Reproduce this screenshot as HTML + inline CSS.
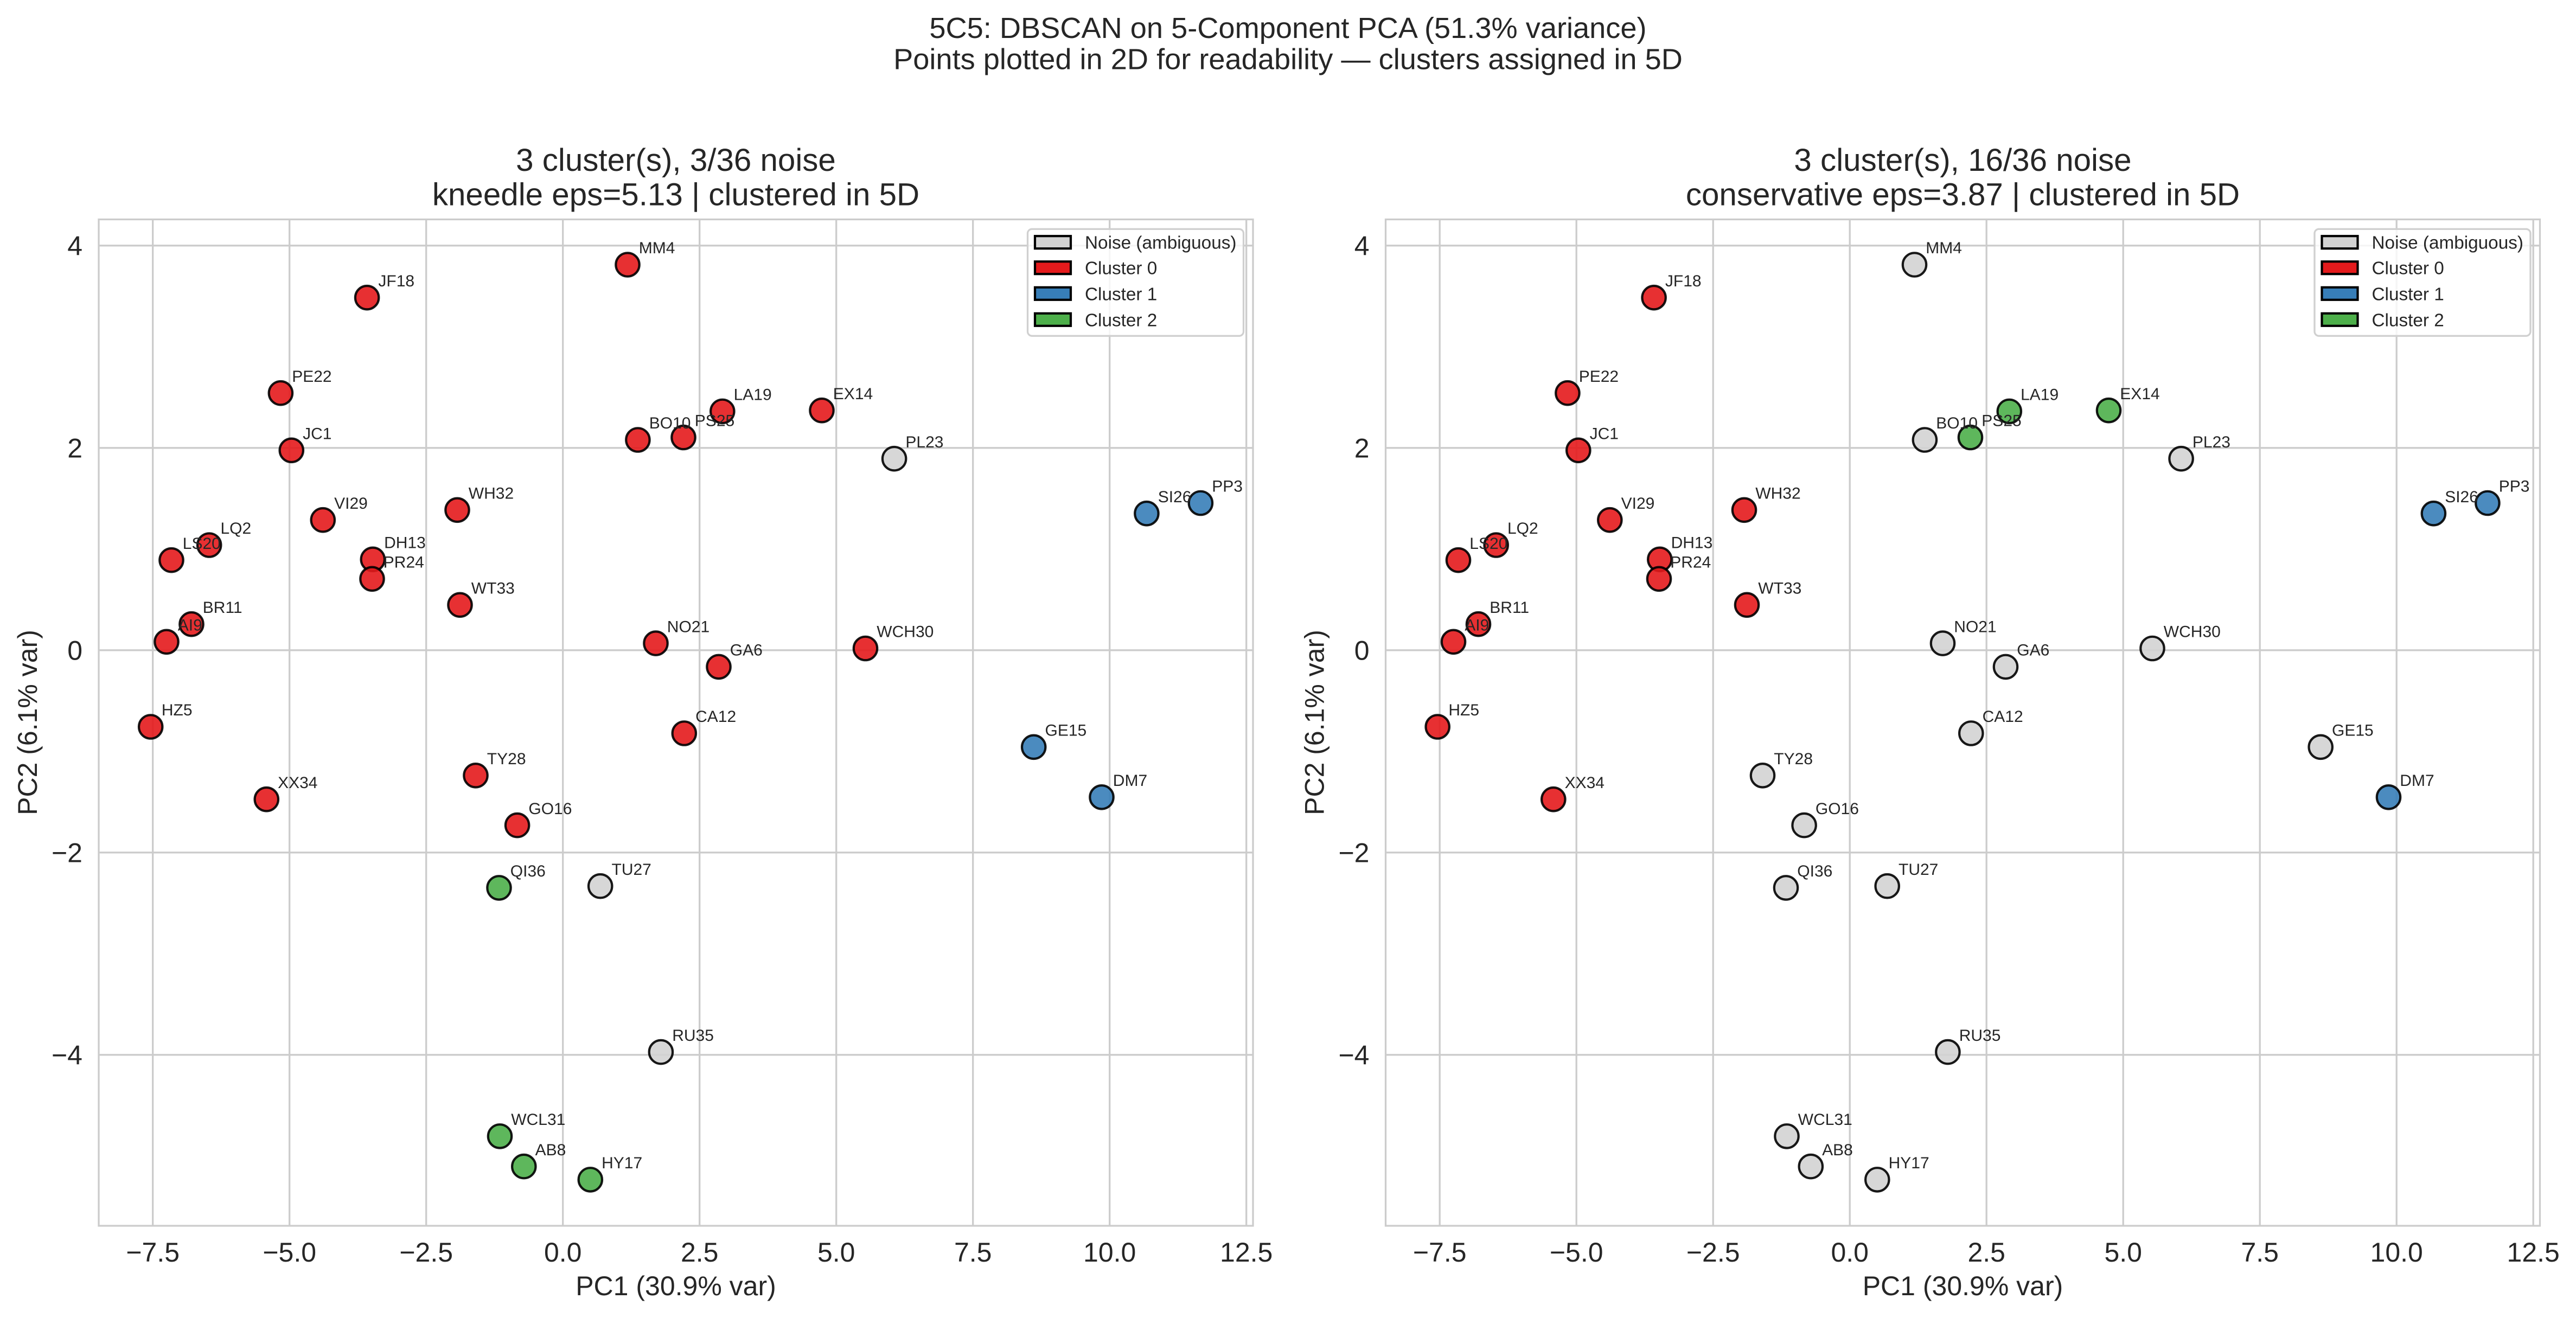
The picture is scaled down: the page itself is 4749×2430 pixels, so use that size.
<!DOCTYPE html>
<html><head><meta charset="utf-8">
<style>
html,body{margin:0;padding:0;background:#fff;width:4749px;height:2430px;overflow:hidden}
svg text{font-family:"Liberation Sans",Arial,sans-serif;fill:#262626}
.grid line{stroke:#cccccc;stroke-width:3.3}
.pt circle{stroke:rgba(0,0,0,0.9);stroke-width:4.2}
.n{fill:rgba(211,211,211,0.9)}
.r{fill:rgba(228,26,28,0.9)}
.b{fill:rgba(55,126,184,0.9)}
.g{fill:rgba(77,175,74,0.9)}
.lbl text{font-size:30px}
.tk{font-size:50px}
.ttl{font-size:58.3px}
.lg text{font-size:33.3px}
.lg rect.p{stroke:#000;stroke-width:4.2}
</style></head><body>
<svg width="4749" height="2430" viewBox="0 0 4749 2430" xmlns="http://www.w3.org/2000/svg">
<rect x="0" y="0" width="4749" height="2430" fill="#fff"/>
<text x="2374.5" y="70" text-anchor="middle" style="font-size:54.2px">5C5: DBSCAN on 5-Component PCA (51.3% variance)</text>
<text x="2374.5" y="127.7" text-anchor="middle" style="font-size:54.2px">Points plotted in 2D for readability — clusters assigned in 5D</text>

<!-- LEFT PLOT -->
<g>
<rect x="182" y="404.5" width="2128" height="1855.5" fill="#fff"/>
<g class="grid">
<line x1="281.7" y1="404.5" x2="281.7" y2="2260"/>
<line x1="533.7" y1="404.5" x2="533.7" y2="2260"/>
<line x1="785.7" y1="404.5" x2="785.7" y2="2260"/>
<line x1="1037.7" y1="404.5" x2="1037.7" y2="2260"/>
<line x1="1289.7" y1="404.5" x2="1289.7" y2="2260"/>
<line x1="1541.7" y1="404.5" x2="1541.7" y2="2260"/>
<line x1="1793.7" y1="404.5" x2="1793.7" y2="2260"/>
<line x1="2045.7" y1="404.5" x2="2045.7" y2="2260"/>
<line x1="2297.7" y1="404.5" x2="2297.7" y2="2260"/>
<line x1="182" y1="452.8" x2="2310" y2="452.8"/>
<line x1="182" y1="825.8" x2="2310" y2="825.8"/>
<line x1="182" y1="1198.8" x2="2310" y2="1198.8"/>
<line x1="182" y1="1571.8" x2="2310" y2="1571.8"/>
<line x1="182" y1="1944.8" x2="2310" y2="1944.8"/>
</g>
<g class="pt">
<circle class="n" cx="1648.6" cy="845.7" r="21.7"/>
<circle class="n" cx="1106.7" cy="1633.7" r="21.7"/>
<circle class="n" cx="1218.4" cy="1939.6" r="21.7"/>
<circle class="r" cx="537.3" cy="830.3" r="21.7"/>
<circle class="r" cx="385.7" cy="1005" r="21.7"/>
<circle class="r" cx="1157" cy="488" r="21.7"/>
<circle class="r" cx="277.7" cy="1340" r="21.7"/>
<circle class="r" cx="1325" cy="1229.4" r="21.7"/>
<circle class="r" cx="307" cy="1183.3" r="21.7"/>
<circle class="r" cx="1175.9" cy="811" r="21.7"/>
<circle class="r" cx="353" cy="1150.7" r="21.7"/>
<circle class="r" cx="1261.3" cy="1352" r="21.7"/>
<circle class="r" cx="687.3" cy="1031.3" r="21.7"/>
<circle class="r" cx="1515" cy="756.7" r="21.7"/>
<circle class="r" cx="953.6" cy="1521.6" r="21.7"/>
<circle class="r" cx="676.6" cy="548.7" r="21.7"/>
<circle class="r" cx="1331.8" cy="758.4" r="21.7"/>
<circle class="r" cx="316" cy="1032.7" r="21.7"/>
<circle class="r" cx="1209" cy="1186.1" r="21.7"/>
<circle class="r" cx="517.4" cy="724.7" r="21.7"/>
<circle class="r" cx="686" cy="1067.3" r="21.7"/>
<circle class="r" cx="1260" cy="806.5" r="21.7"/>
<circle class="r" cx="877" cy="1429.8" r="21.7"/>
<circle class="r" cx="595.3" cy="958.7" r="21.7"/>
<circle class="r" cx="1595.5" cy="1195.5" r="21.7"/>
<circle class="r" cx="843" cy="940.3" r="21.7"/>
<circle class="r" cx="848" cy="1115.3" r="21.7"/>
<circle class="r" cx="491.3" cy="1473.7" r="21.7"/>
<circle class="b" cx="2213.4" cy="927.5" r="21.7"/>
<circle class="b" cx="2031" cy="1469.8" r="21.7"/>
<circle class="b" cx="1905.7" cy="1377.3" r="21.7"/>
<circle class="b" cx="2113.9" cy="946.7" r="21.7"/>
<circle class="g" cx="965.8" cy="2150.6" r="21.7"/>
<circle class="g" cx="1088.3" cy="2174.9" r="21.7"/>
<circle class="g" cx="921.5" cy="2094.9" r="21.7"/>
<circle class="g" cx="920" cy="1636.9" r="21.7"/>
</g>
<g class="lbl">
<text x="1177.8" y="467.2">MM4</text>
<text x="697.4" y="527.9">JF18</text>
<text x="538.2" y="703.9">PE22</text>
<text x="1352.6" y="737.6">LA19</text>
<text x="1535.8" y="735.9">EX14</text>
<text x="1196.7" y="790.2">BO10</text>
<text x="1280.8" y="785.7">PS25</text>
<text x="558.1" y="809.5">JC1</text>
<text x="1669.4" y="824.9">PL23</text>
<text x="863.8" y="919.5">WH32</text>
<text x="616.1" y="937.9">VI29</text>
<text x="2134.7" y="925.9">SI26</text>
<text x="2234.2" y="906.7">PP3</text>
<text x="406.5" y="984.2">LQ2</text>
<text x="336.8" y="1011.9">LS20</text>
<text x="708.1" y="1010.5">DH13</text>
<text x="706.8" y="1046.5">PR24</text>
<text x="868.8" y="1094.5">WT33</text>
<text x="373.8" y="1129.9">BR11</text>
<text x="327.8" y="1162.5">AI9</text>
<text x="1229.8" y="1165.3">NO21</text>
<text x="1616.3" y="1174.7">WCH30</text>
<text x="1345.8" y="1208.6">GA6</text>
<text x="1282.1" y="1331.2">CA12</text>
<text x="1926.5" y="1356.5">GE15</text>
<text x="297.9" y="1319.2">HZ5</text>
<text x="897.8" y="1409">TY28</text>
<text x="512.1" y="1452.9">XX34</text>
<text x="2051.8" y="1449">DM7</text>
<text x="974.4" y="1500.8">GO16</text>
<text x="940.8" y="1616.1">QI36</text>
<text x="1127.5" y="1612.9">TU27</text>
<text x="1239.2" y="1918.8">RU35</text>
<text x="942.3" y="2074.1">WCL31</text>
<text x="986.6" y="2129.8">AB8</text>
<text x="1109.1" y="2154.1">HY17</text>
</g>
<rect x="182" y="404.5" width="2128" height="1855.5" fill="none" stroke="#cccccc" stroke-width="3.3"/>
<g class="lg">
<rect x="1894.5" y="422.3" width="398" height="197" rx="8" fill="#fff" fill-opacity="0.8" stroke="#d0d0d0" stroke-width="3.3"/>
<rect class="p" x="1908" y="435.2" width="66" height="23" fill="#d3d3d3"/>
<rect class="p" x="1908" y="482.2" width="66" height="23" fill="#e41a1c"/>
<rect class="p" x="1908" y="529.8" width="66" height="23" fill="#377eb8"/>
<rect class="p" x="1908" y="577.8" width="66" height="23" fill="#4daf4a"/>
<text x="2000" y="458.7">Noise (ambiguous)</text>
<text x="2000" y="505.7">Cluster 0</text>
<text x="2000" y="553.3">Cluster 1</text>
<text x="2000" y="601.3">Cluster 2</text>
</g>
<g class="tk">
<text x="152" y="470.7" text-anchor="end">4</text>
<text x="152" y="843.7" text-anchor="end">2</text>
<text x="152" y="1216.7" text-anchor="end">0</text>
<text x="152" y="1589.7" text-anchor="end">−2</text>
<text x="152" y="1962.7" text-anchor="end">−4</text>
<text x="281.7" y="2326" text-anchor="middle">−7.5</text>
<text x="533.7" y="2326" text-anchor="middle">−5.0</text>
<text x="785.7" y="2326" text-anchor="middle">−2.5</text>
<text x="1037.7" y="2326" text-anchor="middle">0.0</text>
<text x="1289.7" y="2326" text-anchor="middle">2.5</text>
<text x="1541.7" y="2326" text-anchor="middle">5.0</text>
<text x="1793.7" y="2326" text-anchor="middle">7.5</text>
<text x="2045.7" y="2326" text-anchor="middle">10.0</text>
<text x="2297.7" y="2326" text-anchor="middle">12.5</text>
<text x="1246" y="2388" text-anchor="middle">PC1 (30.9% var)</text>
<text transform="translate(68,1332) rotate(-90)" text-anchor="middle">PC2 (6.1% var)</text>
</g>
<text class="ttl" x="1246" y="315" text-anchor="middle">3 cluster(s), 3/36 noise</text>
<text class="ttl" x="1246" y="378.5" text-anchor="middle">kneedle eps=5.13 | clustered in 5D</text>
</g>

<!-- RIGHT PLOT -->
<g transform="translate(2372.5,0)">
<rect x="182" y="404.5" width="2128" height="1855.5" fill="#fff"/>
<g class="grid">
<line x1="281.7" y1="404.5" x2="281.7" y2="2260"/>
<line x1="533.7" y1="404.5" x2="533.7" y2="2260"/>
<line x1="785.7" y1="404.5" x2="785.7" y2="2260"/>
<line x1="1037.7" y1="404.5" x2="1037.7" y2="2260"/>
<line x1="1289.7" y1="404.5" x2="1289.7" y2="2260"/>
<line x1="1541.7" y1="404.5" x2="1541.7" y2="2260"/>
<line x1="1793.7" y1="404.5" x2="1793.7" y2="2260"/>
<line x1="2045.7" y1="404.5" x2="2045.7" y2="2260"/>
<line x1="2297.7" y1="404.5" x2="2297.7" y2="2260"/>
<line x1="182" y1="452.8" x2="2310" y2="452.8"/>
<line x1="182" y1="825.8" x2="2310" y2="825.8"/>
<line x1="182" y1="1198.8" x2="2310" y2="1198.8"/>
<line x1="182" y1="1571.8" x2="2310" y2="1571.8"/>
<line x1="182" y1="1944.8" x2="2310" y2="1944.8"/>
</g>
<g class="pt">
<circle class="n" cx="1157" cy="488" r="21.7"/>
<circle class="n" cx="1175.9" cy="811" r="21.7"/>
<circle class="n" cx="1648.6" cy="845.7" r="21.7"/>
<circle class="n" cx="1209" cy="1186.1" r="21.7"/>
<circle class="n" cx="1325" cy="1229.4" r="21.7"/>
<circle class="n" cx="1595.5" cy="1195.5" r="21.7"/>
<circle class="n" cx="1261.3" cy="1352" r="21.7"/>
<circle class="n" cx="1905.7" cy="1377.3" r="21.7"/>
<circle class="n" cx="877" cy="1429.8" r="21.7"/>
<circle class="n" cx="953.6" cy="1521.6" r="21.7"/>
<circle class="n" cx="920" cy="1636.9" r="21.7"/>
<circle class="n" cx="1106.7" cy="1633.7" r="21.7"/>
<circle class="n" cx="1218.4" cy="1939.6" r="21.7"/>
<circle class="n" cx="921.5" cy="2094.9" r="21.7"/>
<circle class="n" cx="965.8" cy="2150.6" r="21.7"/>
<circle class="n" cx="1088.3" cy="2174.9" r="21.7"/>
<circle class="r" cx="537.3" cy="830.3" r="21.7"/>
<circle class="r" cx="385.7" cy="1005" r="21.7"/>
<circle class="r" cx="277.7" cy="1340" r="21.7"/>
<circle class="r" cx="307" cy="1183.3" r="21.7"/>
<circle class="r" cx="353" cy="1150.7" r="21.7"/>
<circle class="r" cx="687.3" cy="1031.3" r="21.7"/>
<circle class="r" cx="676.6" cy="548.7" r="21.7"/>
<circle class="r" cx="316" cy="1032.7" r="21.7"/>
<circle class="r" cx="517.4" cy="724.7" r="21.7"/>
<circle class="r" cx="686" cy="1067.3" r="21.7"/>
<circle class="r" cx="595.3" cy="958.7" r="21.7"/>
<circle class="r" cx="843" cy="940.3" r="21.7"/>
<circle class="r" cx="848" cy="1115.3" r="21.7"/>
<circle class="r" cx="491.3" cy="1473.7" r="21.7"/>
<circle class="b" cx="2213.4" cy="927.5" r="21.7"/>
<circle class="b" cx="2031" cy="1469.8" r="21.7"/>
<circle class="b" cx="2113.9" cy="946.7" r="21.7"/>
<circle class="g" cx="1515" cy="756.7" r="21.7"/>
<circle class="g" cx="1331.8" cy="758.4" r="21.7"/>
<circle class="g" cx="1260" cy="806.5" r="21.7"/>
</g>
<g class="lbl">
<text x="1177.8" y="467.2">MM4</text>
<text x="697.4" y="527.9">JF18</text>
<text x="538.2" y="703.9">PE22</text>
<text x="1352.6" y="737.6">LA19</text>
<text x="1535.8" y="735.9">EX14</text>
<text x="1196.7" y="790.2">BO10</text>
<text x="1280.8" y="785.7">PS25</text>
<text x="558.1" y="809.5">JC1</text>
<text x="1669.4" y="824.9">PL23</text>
<text x="863.8" y="919.5">WH32</text>
<text x="616.1" y="937.9">VI29</text>
<text x="2134.7" y="925.9">SI26</text>
<text x="2234.2" y="906.7">PP3</text>
<text x="406.5" y="984.2">LQ2</text>
<text x="336.8" y="1011.9">LS20</text>
<text x="708.1" y="1010.5">DH13</text>
<text x="706.8" y="1046.5">PR24</text>
<text x="868.8" y="1094.5">WT33</text>
<text x="373.8" y="1129.9">BR11</text>
<text x="327.8" y="1162.5">AI9</text>
<text x="1229.8" y="1165.3">NO21</text>
<text x="1616.3" y="1174.7">WCH30</text>
<text x="1345.8" y="1208.6">GA6</text>
<text x="1282.1" y="1331.2">CA12</text>
<text x="1926.5" y="1356.5">GE15</text>
<text x="297.9" y="1319.2">HZ5</text>
<text x="897.8" y="1409">TY28</text>
<text x="512.1" y="1452.9">XX34</text>
<text x="2051.8" y="1449">DM7</text>
<text x="974.4" y="1500.8">GO16</text>
<text x="940.8" y="1616.1">QI36</text>
<text x="1127.5" y="1612.9">TU27</text>
<text x="1239.2" y="1918.8">RU35</text>
<text x="942.3" y="2074.1">WCL31</text>
<text x="986.6" y="2129.8">AB8</text>
<text x="1109.1" y="2154.1">HY17</text>
</g>
<rect x="182" y="404.5" width="2128" height="1855.5" fill="none" stroke="#cccccc" stroke-width="3.3"/>
<g class="lg">
<rect x="1894.5" y="422.3" width="398" height="197" rx="8" fill="#fff" fill-opacity="0.8" stroke="#d0d0d0" stroke-width="3.3"/>
<rect class="p" x="1908" y="435.2" width="66" height="23" fill="#d3d3d3"/>
<rect class="p" x="1908" y="482.2" width="66" height="23" fill="#e41a1c"/>
<rect class="p" x="1908" y="529.8" width="66" height="23" fill="#377eb8"/>
<rect class="p" x="1908" y="577.8" width="66" height="23" fill="#4daf4a"/>
<text x="2000" y="458.7">Noise (ambiguous)</text>
<text x="2000" y="505.7">Cluster 0</text>
<text x="2000" y="553.3">Cluster 1</text>
<text x="2000" y="601.3">Cluster 2</text>
</g>
<g class="tk">
<text x="152" y="470.7" text-anchor="end">4</text>
<text x="152" y="843.7" text-anchor="end">2</text>
<text x="152" y="1216.7" text-anchor="end">0</text>
<text x="152" y="1589.7" text-anchor="end">−2</text>
<text x="152" y="1962.7" text-anchor="end">−4</text>
<text x="281.7" y="2326" text-anchor="middle">−7.5</text>
<text x="533.7" y="2326" text-anchor="middle">−5.0</text>
<text x="785.7" y="2326" text-anchor="middle">−2.5</text>
<text x="1037.7" y="2326" text-anchor="middle">0.0</text>
<text x="1289.7" y="2326" text-anchor="middle">2.5</text>
<text x="1541.7" y="2326" text-anchor="middle">5.0</text>
<text x="1793.7" y="2326" text-anchor="middle">7.5</text>
<text x="2045.7" y="2326" text-anchor="middle">10.0</text>
<text x="2297.7" y="2326" text-anchor="middle">12.5</text>
<text x="1246" y="2388" text-anchor="middle">PC1 (30.9% var)</text>
<text transform="translate(68,1332) rotate(-90)" text-anchor="middle">PC2 (6.1% var)</text>
</g>
<text class="ttl" x="1246" y="315" text-anchor="middle">3 cluster(s), 16/36 noise</text>
<text class="ttl" x="1246" y="378.5" text-anchor="middle">conservative eps=3.87 | clustered in 5D</text>
</g>
</svg>
</body></html>
